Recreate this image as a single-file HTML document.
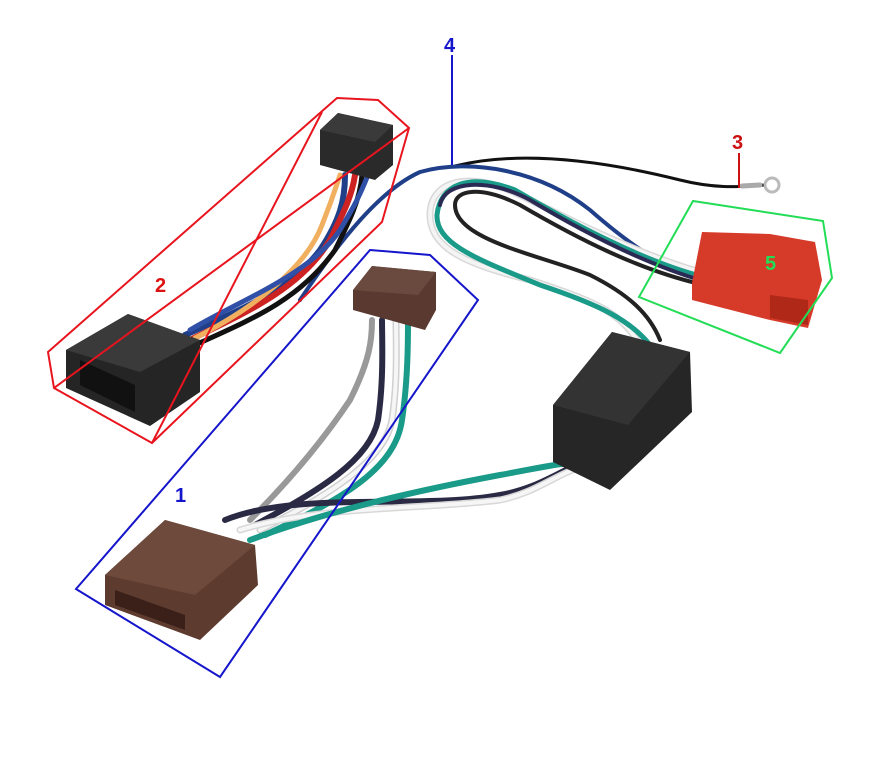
<!DOCTYPE html>
<html><head><meta charset="utf-8"><style>
html,body{margin:0;padding:0;background:#fff;width:885px;height:760px;overflow:hidden}
svg{display:block}
text{font-family:"Liberation Sans",sans-serif;font-weight:bold;font-size:20px}
</style></head><body>
<svg width="885" height="760" viewBox="0 0 885 760" xmlns="http://www.w3.org/2000/svg">
<rect width="885" height="760" fill="#fff"/>
<g fill="none" stroke-linecap="round">
<path d="M455,166 C520,150 600,160 680,180 C720,190 745,186 765,185" stroke="#111" stroke-width="3"/>
<circle cx="772" cy="185" r="7" stroke="#bbb" stroke-width="3" fill="#fff"/>
<path d="M742,186 L760,185" stroke="#aaa" stroke-width="5"/>
<path d="M300,300 C340,240 380,190 420,172 C470,158 540,170 590,210 C630,245 660,265 700,280" stroke="#1f3f88" stroke-width="4"/>
<path d="M700,272 C640,255 570,220 520,195 C470,170 430,180 430,215 C430,250 470,265 530,280 C590,300 620,310 640,345" stroke="#d8d8d8" stroke-width="7"/>
<path d="M700,272 C640,255 570,220 520,195 C470,170 430,180 430,215 C430,250 470,265 530,280 C590,300 620,310 640,345" stroke="#f4f4f4" stroke-width="4"/>
<path d="M700,276 C640,260 570,222 515,190 C468,172 440,185 437,215 C436,245 480,260 540,285 C600,305 630,320 650,345" stroke="#1a9a88" stroke-width="5"/>
<path d="M700,284 C640,270 580,240 520,205 C480,185 455,190 455,205 C455,240 540,255 590,275 C630,295 650,315 660,340" stroke="#222" stroke-width="4"/>
<path d="M700,280 C640,262 580,230 530,200 C490,178 445,180 440,205" stroke="#2a2a55" stroke-width="4"/>
<path d="M185,335 C240,310 290,290 320,250 C340,220 345,200 345,175" stroke="#1f3f88" stroke-width="6"/>
<path d="M190,340 C240,315 300,290 330,240 C345,210 352,195 355,175" stroke="#cc2222" stroke-width="6"/>
<path d="M195,345 C250,320 300,300 335,250 C350,220 360,200 362,175" stroke="#111" stroke-width="5"/>
<path d="M195,338 C250,310 305,270 322,225 C332,200 335,190 340,175" stroke="#f0b060" stroke-width="5"/>
<path d="M190,330 C240,300 310,275 340,230 C355,205 360,195 368,175" stroke="#3050a8" stroke-width="5"/>
<path d="M250,520 C300,470 330,430 350,400 C370,360 372,340 372,320" stroke="#999" stroke-width="6"/>
<path d="M255,525 C320,490 370,460 378,420 C384,380 382,340 382,320" stroke="#2a2a45" stroke-width="6"/>
<path d="M260,530 C330,495 385,460 392,420 C398,380 396,340 396,320" stroke="#d0d0d0" stroke-width="7"/>
<path d="M260,530 C330,495 385,460 392,420 C398,380 396,340 396,320" stroke="#f6f6f6" stroke-width="4"/>
<path d="M265,535 C340,500 395,470 402,420 C408,380 408,340 408,320" stroke="#1a9a88" stroke-width="6"/>
<path d="M225,520 C300,490 420,510 500,495 C540,488 560,470 585,462" stroke="#2a2a45" stroke-width="6"/>
<path d="M240,530 C320,505 420,510 500,500 C540,492 560,470 590,465" stroke="#d8d8d8" stroke-width="7"/>
<path d="M240,530 C320,505 420,510 500,500 C540,492 560,470 590,465" stroke="#f6f6f6" stroke-width="4"/>
<path d="M250,540 C330,510 420,490 500,475 C540,468 570,460 600,462" stroke="#1a9a88" stroke-width="6"/>
</g>
<polygon points="320,130 338,113 393,125 393,165 375,180 320,165" fill="#2a2a2a"/>
<polygon points="320,130 338,113 393,125 375,142" fill="#3a3a3a"/>
<polygon points="66,350 128,314 200,340 200,392 150,426 66,388" fill="#252525"/>
<polygon points="66,350 128,314 200,340 140,372" fill="#3a3a3a"/>
<polygon points="80,360 135,385 135,412 80,385" fill="#111"/>
<polygon points="353,290 372,266 436,272 436,310 425,330 353,310" fill="#5a3a30"/>
<polygon points="353,290 372,266 436,272 418,295" fill="#6a4a3e"/>
<polygon points="105,575 165,520 255,545 258,585 200,640 105,605" fill="#5e3b2f"/>
<polygon points="105,575 165,520 255,545 195,595" fill="#6e4a3c"/>
<polygon points="115,590 185,615 185,630 115,605" fill="#3a2018"/>
<polygon points="553,405 612,332 690,352 692,412 610,490 553,462" fill="#262626"/>
<polygon points="553,405 612,332 690,352 628,425" fill="#333"/>
<polygon points="692,283 702,232 770,234 815,242 822,280 808,328 770,320 692,300" fill="#d63a28"/>
<polygon points="770,295 808,300 808,325 770,318" fill="#b02818"/>
<g fill="none" stroke-width="2">
<polygon points="337,98 378,100 409,128 382,222 152,443 54,388 48,352" stroke="#e8141e"/>
<line x1="409" y1="128" x2="54" y2="388" stroke="#e8141e"/>
<line x1="322" y1="112" x2="152" y2="443" stroke="#e8141e"/>
<polygon points="370,250 430,255 478,300 220,677 76,589" stroke="#1515cc"/>
<polygon points="639,297 693,201 823,221 832,278 780,353" stroke="#22dd55"/>
<line x1="452" y1="55" x2="452" y2="165" stroke="#1515cc"/>
<line x1="739" y1="153" x2="739" y2="188" stroke="#cc1111"/>
</g>
<text x="444" y="52" fill="#1515cc">4</text>
<text x="732" y="149" fill="#cc1111">3</text>
<text x="155" y="292" fill="#dd1111">2</text>
<text x="175" y="502" fill="#1515cc">1</text>
<text x="765" y="270" fill="#22dd55">5</text>
</svg>
</body></html>
